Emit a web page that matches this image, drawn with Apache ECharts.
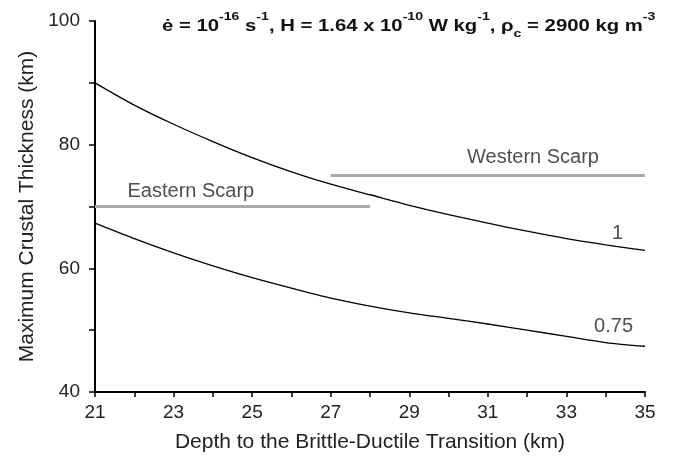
<!DOCTYPE html>
<html>
<head>
<meta charset="utf-8">
<script src="https://cdn.jsdelivr.net/npm/echarts@6/dist/echarts.min.js"></script>
<style>html,body{margin:0;padding:0;background:#fff}#c{width:677px;height:458px}</style>
</head>
<body>
<div id="c"></div>
<script>
var depth = [21, 22, 23, 24, 25, 26, 27, 28, 29, 30, 31, 32, 33, 34, 35];
var thick1 = [90.0, 86.4, 83.3, 80.5, 77.9, 75.6, 73.6, 71.9, 70.2, 68.7, 67.3, 66.0, 64.8, 63.8, 62.9];
var thick075 = [67.3, 64.8, 62.5, 60.4, 58.5, 56.8, 55.2, 53.9, 52.8, 51.9, 51.0, 50.0, 49.0, 48.0, 47.4];
var easternScarp = [[21, 70], [28, 70]];
var westernScarp = [[27, 75], [35, 75]];
var textLabels = [
  {name: '1', value: [34.3, 65.7]},
  {name: '0.75', value: [34.2, 50.6]},
  {name: 'Eastern Scarp', value: [23.44, 72.5]},
  {name: 'Western Scarp', value: [32.15, 77.9]}
];
var yTickLabels = [40, 60, 80, 100];
var xTickLabels = [21, 23, 25, 27, 29, 31, 33, 35];

function zip(xs, ys) { return xs.map(function (x, i) { return [x, ys[i]]; }); }

var chart = echarts.init(document.getElementById('c'));
var font = 'Liberation Sans, Arial, sans-serif';
chart.setOption({
  animation: false,
  graphic: [{
    type: 'text', x: 162, y: 11, scaleX: 1.23, scaleY: 1, z: 10,
    style: {
      text: '{b|ė = 10}{s|-16}{b| s}{s|-1}{b|, H = 1.64 x 10}{s|-10}{b| W kg}{s|-1}{b|, ρ}{u|c}{b| = 2900 kg m}{s|-3}',
      rich: {
        b: {fontFamily: font, fontWeight: 'bold', fontSize: 16.5, fill: '#111', verticalAlign: 'bottom', lineHeight: 24},
        s: {fontFamily: font, fontWeight: 'bold', fontSize: 11.5, fill: '#111', verticalAlign: 'top', lineHeight: 24, padding: [0, 0, 10, 0]},
        u: {fontFamily: font, fontWeight: 'bold', fontSize: 11.5, fill: '#111', verticalAlign: 'bottom', lineHeight: 24, padding: [0, 0, -5, 0]}
      }
    }
  }],
  grid: {left: 95, right: 32, top: 21, bottom: 65, containLabel: false},
  xAxis: {
    type: 'value', min: 21, max: 35, interval: 1,
    name: 'Depth to the Brittle-Ductile Transition (km)',
    nameLocation: 'middle', nameGap: 40,
    nameTextStyle: {fontFamily: font, fontSize: 21, color: '#222'},
    axisLine: {show: true, onZero: false, lineStyle: {color: '#000', width: 2}},
    axisTick: {show: true, length: 5, lineStyle: {color: '#000', width: 1.5}},
    splitLine: {show: false},
    axisLabel: {
      fontFamily: font, fontSize: 19, color: '#222', margin: 11,
      formatter: function (v) { return xTickLabels.indexOf(v) >= 0 ? String(v) : ''; }
    }
  },
  yAxis: {
    type: 'value', min: 40, max: 100, interval: 10,
    name: 'Maximum Crustal Thickness (km)',
    nameLocation: 'middle', nameGap: 57,
    nameTextStyle: {fontFamily: font, fontSize: 21, color: '#222'},
    axisLine: {show: true, onZero: false, lineStyle: {color: '#000', width: 2}},
    axisTick: {show: true, length: 6, lineStyle: {color: '#000', width: 1.5}},
    splitLine: {show: false},
    axisLabel: {
      fontFamily: font, fontSize: 19, color: '#222', margin: 15,
      formatter: function (v) { return yTickLabels.indexOf(v) >= 0 ? String(v) : ''; }
    }
  },
  series: [
    {type: 'line', data: easternScarp, symbol: 'none', lineStyle: {color: '#aaaaaa', width: 3}, z: 2},
    {type: 'line', data: westernScarp, symbol: 'none', lineStyle: {color: '#aaaaaa', width: 3}, z: 2},
    {type: 'line', data: zip(depth, thick1), symbol: 'none', smooth: 0.3, lineStyle: {color: '#000', width: 1.3}, z: 3},
    {type: 'line', data: zip(depth, thick075), symbol: 'none', smooth: 0.3, lineStyle: {color: '#000', width: 1.3}, z: 3},
    {
      type: 'scatter', data: textLabels, symbolSize: 0, silent: true, z: 4,
      label: {show: true, position: 'inside', formatter: '{b}', fontFamily: font, fontSize: 20, color: '#222'}
    }
  ]
});
</script>
</body>
</html>
